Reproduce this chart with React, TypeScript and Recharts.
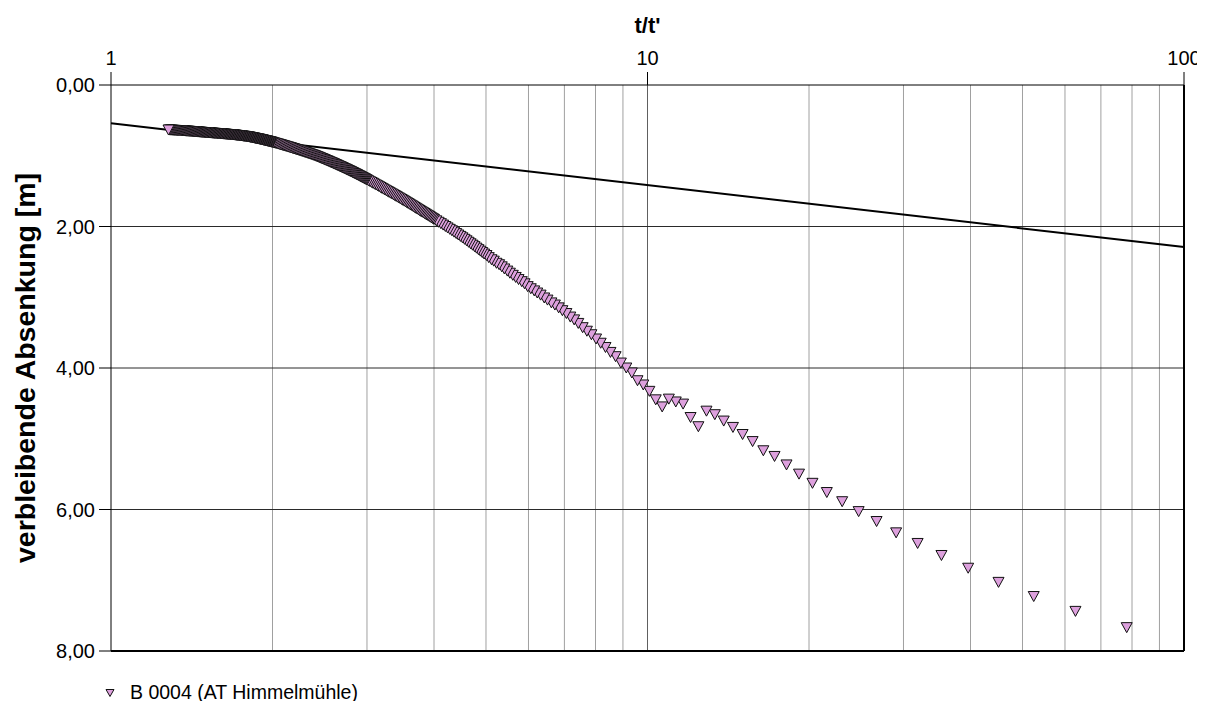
import { ScatterChart, Scatter, XAxis, YAxis, ReferenceLine } from "recharts"

const FONT = "'Liberation Sans', Arial, sans-serif"

// t/t' and residual drawdown [m], late recovery band (t/t' 1.28 – 2.00)
const ratioA = [
    1.280, 1.285, 1.290, 1.295, 1.300, 1.305, 1.310, 1.315, 1.320, 1.325,
    1.330, 1.335, 1.340, 1.345, 1.350, 1.355, 1.360, 1.365, 1.370, 1.375,
    1.380, 1.385, 1.390, 1.395, 1.400, 1.405, 1.410, 1.415, 1.420, 1.425,
    1.430, 1.435, 1.440, 1.445, 1.450, 1.455, 1.460, 1.465, 1.470, 1.475,
    1.480, 1.485, 1.490, 1.495, 1.500, 1.505, 1.510, 1.515, 1.520, 1.525,
    1.530, 1.535, 1.540, 1.545, 1.550, 1.555, 1.560, 1.565, 1.570, 1.575,
    1.580, 1.585, 1.590, 1.595, 1.600, 1.605, 1.610, 1.615, 1.620, 1.625,
    1.630, 1.635, 1.640, 1.645, 1.650, 1.655, 1.660, 1.665, 1.670, 1.675,
    1.680, 1.685, 1.690, 1.695, 1.700, 1.705, 1.710, 1.715, 1.720, 1.725,
    1.730, 1.735, 1.740, 1.745, 1.750, 1.755, 1.760, 1.765, 1.770, 1.775,
    1.780, 1.785, 1.790, 1.795, 1.800, 1.805, 1.810, 1.815, 1.820, 1.825,
    1.830, 1.835, 1.840, 1.845, 1.850, 1.855, 1.860, 1.865, 1.870, 1.875,
    1.880, 1.885, 1.890, 1.895, 1.900, 1.905, 1.910, 1.915, 1.920, 1.925,
    1.930, 1.935, 1.940, 1.945, 1.950, 1.955, 1.960, 1.965, 1.970, 1.975,
    1.980, 1.985, 1.990, 1.995, 2.000,
]
const drawdownA = [
    0.636, 0.637, 0.638, 0.638, 0.639, 0.640, 0.641, 0.642, 0.642, 0.643,
    0.644, 0.645, 0.645, 0.646, 0.647, 0.648, 0.649, 0.649, 0.650, 0.651,
    0.652, 0.653, 0.653, 0.654, 0.655, 0.656, 0.657, 0.658, 0.659, 0.660,
    0.661, 0.662, 0.663, 0.664, 0.665, 0.665, 0.666, 0.667, 0.668, 0.669,
    0.670, 0.671, 0.672, 0.673, 0.674, 0.675, 0.676, 0.676, 0.677, 0.678,
    0.679, 0.679, 0.680, 0.681, 0.682, 0.683, 0.684, 0.684, 0.685, 0.686,
    0.687, 0.687, 0.688, 0.689, 0.690, 0.691, 0.692, 0.693, 0.694, 0.694,
    0.695, 0.696, 0.697, 0.698, 0.699, 0.700, 0.701, 0.702, 0.703, 0.703,
    0.704, 0.705, 0.706, 0.707, 0.708, 0.709, 0.710, 0.712, 0.713, 0.714,
    0.715, 0.716, 0.718, 0.719, 0.720, 0.721, 0.722, 0.724, 0.725, 0.726,
    0.727, 0.728, 0.730, 0.731, 0.732, 0.734, 0.736, 0.738, 0.740, 0.742,
    0.743, 0.745, 0.747, 0.749, 0.751, 0.753, 0.755, 0.757, 0.759, 0.761,
    0.762, 0.764, 0.766, 0.768, 0.770, 0.772, 0.774, 0.776, 0.778, 0.781,
    0.783, 0.785, 0.787, 0.789, 0.791, 0.793, 0.795, 0.797, 0.799, 0.802,
    0.804, 0.806, 0.808, 0.810, 0.812,
]

// t/t' 2.01 – 3.00
const ratioB = [
    2.01, 2.02, 2.03, 2.04, 2.05, 2.06, 2.07, 2.08, 2.09, 2.10,
    2.11, 2.12, 2.13, 2.14, 2.15, 2.16, 2.17, 2.18, 2.19, 2.20,
    2.21, 2.22, 2.23, 2.24, 2.25, 2.26, 2.27, 2.28, 2.29, 2.30,
    2.31, 2.32, 2.33, 2.34, 2.35, 2.36, 2.37, 2.38, 2.39, 2.40,
    2.41, 2.42, 2.43, 2.44, 2.45, 2.46, 2.47, 2.48, 2.49, 2.50,
    2.51, 2.52, 2.53, 2.54, 2.55, 2.56, 2.57, 2.58, 2.59, 2.60,
    2.61, 2.62, 2.63, 2.64, 2.65, 2.66, 2.67, 2.68, 2.69, 2.70,
    2.71, 2.72, 2.73, 2.74, 2.75, 2.76, 2.77, 2.78, 2.79, 2.80,
    2.81, 2.82, 2.83, 2.84, 2.85, 2.86, 2.87, 2.88, 2.89, 2.90,
    2.91, 2.92, 2.93, 2.94, 2.95, 2.96, 2.97, 2.98, 2.99, 3.00,
]
const drawdownB = [
    0.817, 0.821, 0.826, 0.831, 0.835, 0.840, 0.845, 0.849, 0.854, 0.859,
    0.863, 0.868, 0.873, 0.877, 0.882, 0.886, 0.891, 0.896, 0.900, 0.905,
    0.910, 0.915, 0.919, 0.924, 0.929, 0.934, 0.938, 0.943, 0.948, 0.953,
    0.957, 0.962, 0.967, 0.972, 0.976, 0.981, 0.986, 0.991, 0.995, 1.000,
    1.006, 1.011, 1.017, 1.022, 1.028, 1.034, 1.039, 1.045, 1.050, 1.056,
    1.062, 1.067, 1.073, 1.078, 1.084, 1.090, 1.095, 1.101, 1.106, 1.112,
    1.118, 1.123, 1.129, 1.135, 1.140, 1.146, 1.152, 1.157, 1.163, 1.169,
    1.174, 1.180, 1.186, 1.191, 1.197, 1.203, 1.208, 1.214, 1.220, 1.225,
    1.231, 1.237, 1.243, 1.249, 1.255, 1.260, 1.266, 1.272, 1.278, 1.284,
    1.290, 1.296, 1.302, 1.308, 1.314, 1.319, 1.325, 1.331, 1.337, 1.343,
]

// t/t' 3.02 – 4.96
const ratioC = [
    3.02, 3.04, 3.06, 3.08, 3.10, 3.12, 3.14, 3.16, 3.18, 3.20,
    3.22, 3.24, 3.26, 3.28, 3.30, 3.32, 3.34, 3.36, 3.38, 3.40,
    3.42, 3.44, 3.46, 3.48, 3.50, 3.52, 3.54, 3.56, 3.58, 3.60,
    3.62, 3.64, 3.66, 3.68, 3.70, 3.72, 3.74, 3.76, 3.78, 3.80,
    3.82, 3.84, 3.86, 3.88, 3.90, 3.92, 3.94, 3.96, 3.98, 4.00,
    4.04, 4.08, 4.12, 4.16, 4.20, 4.24, 4.28, 4.32, 4.36, 4.40, 4.44, 4.48,
    4.52, 4.56, 4.60, 4.64, 4.68, 4.72, 4.76, 4.80, 4.84, 4.88, 4.92, 4.96,
]
const drawdownC = [
    1.355, 1.367, 1.378, 1.390, 1.402, 1.414, 1.425, 1.437, 1.449, 1.461,
    1.472, 1.484, 1.496, 1.507, 1.518, 1.529, 1.540, 1.552, 1.563, 1.574,
    1.585, 1.596, 1.608, 1.619, 1.630, 1.641, 1.652, 1.664, 1.675, 1.686,
    1.697, 1.708, 1.720, 1.731, 1.742, 1.753, 1.764, 1.775, 1.786, 1.796,
    1.806, 1.817, 1.827, 1.838, 1.848, 1.858, 1.869, 1.879, 1.890, 1.900,
    1.920, 1.940, 1.960, 1.980, 2.000, 2.020, 2.040, 2.060, 2.080, 2.100, 2.120, 2.140,
    2.160, 2.181, 2.202, 2.223, 2.244, 2.264, 2.285, 2.306, 2.327, 2.348, 2.368, 2.389,
]

// t/t' 5.01 – 8.35
const ratioD = [
    5.01, 5.06, 5.12, 5.17, 5.23, 5.29, 5.35, 5.41, 5.48, 5.54, 5.61, 5.68,
    5.75, 5.83, 5.90, 5.98, 6.06, 6.15, 6.23, 6.32, 6.42, 6.51, 6.62, 6.72,
    6.83, 6.94, 7.06, 7.18, 7.30, 7.43, 7.57, 7.71, 7.86, 8.02, 8.18, 8.35,
]
const drawdownD = [
    2.41, 2.44, 2.47, 2.49, 2.52, 2.54, 2.57, 2.60, 2.63, 2.66, 2.69, 2.72,
    2.75, 2.78, 2.81, 2.85, 2.88, 2.91, 2.94, 2.97, 3.01, 3.04, 3.08, 3.11,
    3.15, 3.19, 3.23, 3.28, 3.32, 3.37, 3.43, 3.48, 3.53, 3.59, 3.65, 3.71,
]

// first minutes of recovery (large t/t')
const ratioE = [
    8.53, 8.72, 8.92, 9.13, 9.35, 9.58, 9.82, 10.08, 10.36, 10.65,
    10.96, 11.29, 11.65, 12.03, 12.44, 12.88, 13.35, 13.87, 14.43, 15.04,
    15.70, 16.44, 17.25, 18.16, 19.16, 20.30, 21.59, 23.06, 24.75, 26.73,
    29.07, 31.88, 35.31, 39.60, 45.11, 52.47, 62.76, 78.20,
]
const drawdownE = [
    3.78, 3.84, 3.93, 4.00, 4.07, 4.18, 4.24, 4.33, 4.45, 4.55,
    4.44, 4.48, 4.51, 4.70, 4.83, 4.61, 4.66, 4.75, 4.84, 4.94,
    5.04, 5.17, 5.25, 5.37, 5.50, 5.63, 5.76, 5.89, 6.03, 6.17,
    6.33, 6.48, 6.65, 6.83, 7.03, 7.23, 7.44, 7.67,
]

// straight-line fit (Cooper-Jacob)
const fitRatio = [1, 100]
const fitDrawdown = [0.54, 2.29]

const majorTicks = [1, 10, 100]
const minorTicks = [2, 3, 4, 5, 6, 7, 8, 9, 20, 30, 40, 50, 60, 70, 80, 90]
const depthTicks = [0, 2, 4, 6, 8]
const depthGrid = [2, 4, 6]

const SERIES_NAME = "B 0004 (AT Himmelmühle)"
const MARKER_FILL = "#dda0dd"

const toPoints = (xs: number[], ys: number[]) => xs.map((x, i) => ({ x, y: ys[i] }))

// measurement order: largest t/t' first
const points = [
    ...toPoints(ratioA, drawdownA),
    ...toPoints(ratioB, drawdownB),
    ...toPoints(ratioC, drawdownC),
    ...toPoints(ratioD, drawdownD),
    ...toPoints(ratioE, drawdownE),
].reverse()

const DownTriangle = (props: any) => {
    const { cx, cy } = props
    if (cx == null || cy == null) return null
    return (
        <path
            d={`M${cx - 5.5},${cy - 5}L${cx + 5.5},${cy - 5}L${cx},${cy + 5}Z`}
            fill={MARKER_FILL}
            stroke="#111"
            strokeWidth={1}
        />
    )
}

const XTitle = (props: any) => {
    const { x, width } = props.viewBox
    return (
        <text x={x + width / 2} y={25} textAnchor="middle" fontSize={22} fontWeight="bold" fill="#000" fontFamily={FONT}>
            t/t'
        </text>
    )
}

const YTitle = (props: any) => {
    const { y, height } = props.viewBox
    const cx = 17
    const cy = y + height / 2
    return (
        <text
            x={cx}
            y={cy}
            transform={`rotate(-90, ${cx}, ${cy})`}
            textAnchor="middle"
            dominantBaseline="central"
            fontSize={28.5}
            fontWeight="bold"
            fill="#000"
            fontFamily={FONT}
        >
            verbleibende Absenkung [m]
        </text>
    )
}

export default function App() {
    return (
        <div style={{ position: "relative", width: 1197, height: 693, fontFamily: FONT }}>
            <ScatterChart width={1197} height={693} margin={{ top: 0, right: 21, bottom: 50, left: 0 }}>
                {minorTicks.map((v) => (
                    <ReferenceLine key={`gx${v}`} x={v} stroke="#a0a0a0" strokeWidth={1} />
                ))}
                <ReferenceLine x={10} stroke="#606060" strokeWidth={1} />
                {depthGrid.map((v) => (
                    <ReferenceLine key={`gy${v}`} y={v} stroke="#2a2a2a" strokeWidth={1} />
                ))}
                <ReferenceLine x={100} stroke="#000" strokeWidth={2} />
                <ReferenceLine y={8} stroke="#000" strokeWidth={2} />
                <XAxis
                    type="number"
                    dataKey="x"
                    scale="log"
                    domain={[1, 100]}
                    orientation="top"
                    height={77}
                    ticks={majorTicks}
                    interval={0}
                    tickSize={13}
                    tickMargin={7}
                    tick={{ fill: "#000", fontSize: 20, fontFamily: FONT }}
                    tickLine={{ stroke: "#000" }}
                    axisLine={{ stroke: "#000" }}
                    allowDataOverflow
                    label={<XTitle />}
                />
                <YAxis
                    type="number"
                    dataKey="y"
                    domain={[0, 8]}
                    reversed
                    width={103}
                    ticks={depthTicks}
                    interval={0}
                    tickSize={12}
                    tickMargin={4}
                    tick={{ fill: "#000", fontSize: 20, fontFamily: FONT }}
                    tickLine={{ stroke: "#000" }}
                    axisLine={{ stroke: "#000" }}
                    tickFormatter={(v: number) => v.toFixed(2).replace(".", ",")}
                    allowDataOverflow
                    label={<YTitle />}
                />
                <ReferenceLine
                    segment={[
                        { x: fitRatio[0], y: fitDrawdown[0] },
                        { x: fitRatio[1], y: fitDrawdown[1] },
                    ]}
                    stroke="#000"
                    strokeWidth={2}
                />
                <Scatter
                    name={SERIES_NAME}
                    data={points}
                    shape={DownTriangle}
                    isAnimationActive={false}
                />
            </ScatterChart>
            <div
                style={{
                    position: "absolute",
                    left: 96,
                    top: 675,
                    display: "flex",
                    alignItems: "center",
                    fontSize: 19.5,
                    lineHeight: "19px",
                    color: "#000",
                }}
            >
                <svg width={12} height={12} style={{ marginRight: 14 }}>
                    <path d="M2,2.5L10,2.5L6,9.5Z" fill={MARKER_FILL} stroke="#111" strokeWidth={1} />
                </svg>
                <span>{SERIES_NAME}</span>
            </div>
        </div>
    )
}
